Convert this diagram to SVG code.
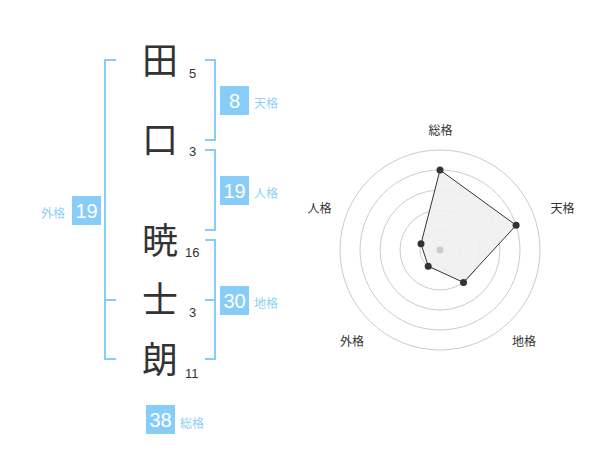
<svg xmlns="http://www.w3.org/2000/svg" width="600" height="470" viewBox="0 0 600 470">
<style>
.k{font-family:"Noto Sans CJK JP","Noto Sans CJK SC",sans-serif;font-size:36px;fill:#333;text-anchor:middle}
.n{font-family:"Liberation Sans",Arial,sans-serif;font-size:13px;fill:#333}
.bx{fill:#88cdf8}
.bn{font-family:"Liberation Sans",Arial,sans-serif;font-size:20px;fill:#fff;text-anchor:middle}
.bl{font-family:"Noto Sans CJK JP","Noto Sans CJK SC",sans-serif;font-size:12px;fill:#8ecff3}
.br{fill:none;stroke:#88cdf8;stroke-width:2}
.ring{fill:none;stroke:#ccc;stroke-width:1}
.rl{font-family:"Noto Sans CJK JP","Noto Sans CJK SC",sans-serif;font-size:12px;fill:#333;text-anchor:middle}
.pt{fill:#333}
</style>
<g id="connectors">
<path class="br" d="M116,60 H105 V359 H116 M105,300 H116"/>
<path class="br" d="M205,60 H215 V140 H205"/>
<path class="br" d="M205,150 H215 V230 H205"/>
<path class="br" d="M205,240 H215 V359 H205 M205,300 H215"/>
</g>
<g id="chars">
<text class="k" x="160" y="74">田</text>
<text class="k" x="160" y="153">口</text>
<text class="k" x="160" y="254">暁</text>
<text class="k" x="160" y="313">士</text>
<text class="k" x="160" y="373">朗</text>
</g>
<g id="strokes">
<text class="n" x="189" y="78">5</text>
<text class="n" x="189" y="156">3</text>
<text class="n" x="185" y="257">16</text>
<text class="n" x="189" y="317">3</text>
<text class="n" x="185" y="378">11</text>
</g>
<g id="tenkaku"><rect class="bx" x="220" y="86" width="29" height="29"/><text class="bn" x="234.5" y="107.5">8</text><text class="bl" x="254" y="108">天格</text></g>
<g id="jinkaku"><rect class="bx" x="220" y="176" width="29" height="29"/><text class="bn" x="234.5" y="197.5">19</text><text class="bl" x="254" y="198">人格</text></g>
<g id="chikaku"><rect class="bx" x="220" y="286" width="29" height="29"/><text class="bn" x="234.5" y="307.5">30</text><text class="bl" x="254" y="308">地格</text></g>
<g id="gaikaku"><rect class="bx" x="72" y="196" width="29" height="29"/><text class="bn" x="86.5" y="217.5">19</text><text class="bl" x="41" y="218">外格</text></g>
<g id="soukaku"><rect class="bx" x="146" y="405" width="29" height="29"/><text class="bn" x="160.5" y="426.5">38</text><text class="bl" x="180" y="428">総格</text></g>
<g id="radar">
<circle class="ring" cx="440" cy="250" r="20"/>
<circle class="ring" cx="440" cy="250" r="40"/>
<circle class="ring" cx="440" cy="250" r="60"/>
<circle class="ring" cx="440" cy="250" r="80"/>
<circle class="ring" cx="440" cy="250" r="100"/>
<polygon points="440,170 516.1,225.3 463.5,282.4 428.2,266.2 421,243.8" fill="#efefef" fill-opacity="0.9" stroke="#333" stroke-width="1"/>
<circle cx="440" cy="250" r="3.5" fill="#ccc"/>
<circle class="pt" cx="440" cy="170" r="3.5"/>
<circle class="pt" cx="516.1" cy="225.3" r="3.5"/>
<circle class="pt" cx="463.5" cy="282.4" r="3.5"/>
<circle class="pt" cx="428.2" cy="266.2" r="3.5"/>
<circle class="pt" cx="421" cy="243.8" r="3.5"/>
<text class="rl" x="440.5" y="135">総格</text>
<text class="rl" x="562.5" y="213">天格</text>
<text class="rl" x="524" y="346">地格</text>
<text class="rl" x="352" y="346">外格</text>
<text class="rl" x="319.5" y="213">人格</text>
</g>
</svg>
